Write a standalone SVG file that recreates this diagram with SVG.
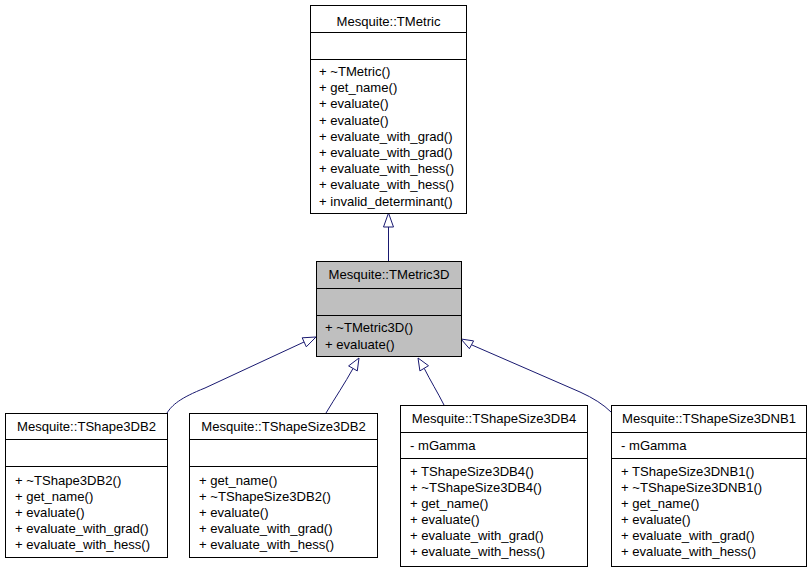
<svg xmlns="http://www.w3.org/2000/svg" width="811" height="571" viewBox="0 0 811 571">
  <style>
    .box { fill: #ffffff; stroke: #000000; stroke-width: 1; }
    .cur { fill: #bfbfbf; stroke: #000000; stroke-width: 1; }
    .sep { stroke: #000000; stroke-width: 1; }
    text { font-family: "Liberation Sans", Arial, Helvetica, sans-serif; font-size: 13.1px; fill: #000000; }
    .mid { text-anchor: middle; }
    .edge { fill: none; stroke: #191970; stroke-width: 1; }
    .head { fill: #ffffff; stroke: #191970; stroke-width: 1; }
  </style>
  <rect width="811" height="571" fill="#ffffff"/>

  <!-- inheritance connectors -->
  <g id="edges">
    <path class="edge" d="M388.5,261 L388.5,227"/>
    <polygon class="head" points="388.5,213 383.5,227 393.5,227"/>

    <path class="edge" d="M167,413 C172,405 180,398 205,388 L304,342"/>
    <polygon class="head" points="316,337 306.3,346.8 302.2,337.8"/>

    <path class="edge" d="M326,413 C335,398 345,383 353,368.5"/>
    <polygon class="head" points="359,358 357.3,370.9 348.6,365.9"/>

    <path class="edge" d="M444,405 C438,393 430,380 424.2,368.3"/>
    <polygon class="head" points="418,358 428.5,365.7 419.9,370.9"/>

    <path class="edge" d="M611,412 Q600,401 580,392 L471.5,344.8"/>
    <polygon class="head" points="461,339 473.6,340.9 469.4,348.7"/>
  </g>

  <g id="TMetric">
    <rect class="box" x="310.5" y="5.5" width="156" height="208"/>
    <line class="sep" x1="310.5" y1="32.5" x2="466.5" y2="32.5"/>
    <line class="sep" x1="310.5" y1="59.5" x2="466.5" y2="59.5"/>
    <text class="mid" x="388.5" y="26">Mesquite::TMetric</text>
    <text x="319" y="76">+ ~TMetric()</text>
    <text x="319" y="92">+ get_name()</text>
    <text x="319" y="108">+ evaluate()</text>
    <text x="319" y="124.5">+ evaluate()</text>
    <text x="319" y="140.5">+ evaluate_with_grad()</text>
    <text x="319" y="157">+ evaluate_with_grad()</text>
    <text x="319" y="173">+ evaluate_with_hess()</text>
    <text x="319" y="189">+ evaluate_with_hess()</text>
    <text x="319" y="205.5">+ invalid_determinant()</text>
  </g>

  <g id="TMetric3D">
    <rect class="cur" x="316.5" y="261.5" width="145" height="95"/>
    <line class="sep" x1="316.5" y1="288.5" x2="461.5" y2="288.5"/>
    <line class="sep" x1="316.5" y1="315.5" x2="461.5" y2="315.5"/>
    <text class="mid" x="389" y="278.5">Mesquite::TMetric3D</text>
    <text x="325" y="332">+ ~TMetric3D()</text>
    <text x="325" y="348.5">+ evaluate()</text>
  </g>

  <g id="TShape3DB2">
    <rect class="box" x="5.5" y="413.5" width="162" height="144"/>
    <line class="sep" x1="5.5" y1="439.5" x2="167.5" y2="439.5"/>
    <line class="sep" x1="5.5" y1="466.5" x2="167.5" y2="466.5"/>
    <text class="mid" x="86.5" y="431">Mesquite::TShape3DB2</text>
    <text x="15" y="485">+ ~TShape3DB2()</text>
    <text x="15" y="501">+ get_name()</text>
    <text x="15" y="517">+ evaluate()</text>
    <text x="15" y="533">+ evaluate_with_grad()</text>
    <text x="15" y="549">+ evaluate_with_hess()</text>
  </g>

  <g id="TShapeSize3DB2">
    <rect class="box" x="189.5" y="413.5" width="188" height="144"/>
    <line class="sep" x1="189.5" y1="439.5" x2="377.5" y2="439.5"/>
    <line class="sep" x1="189.5" y1="466.5" x2="377.5" y2="466.5"/>
    <text class="mid" x="283.5" y="431">Mesquite::TShapeSize3DB2</text>
    <text x="199" y="485">+ get_name()</text>
    <text x="199" y="501">+ ~TShapeSize3DB2()</text>
    <text x="199" y="517">+ evaluate()</text>
    <text x="199" y="533">+ evaluate_with_grad()</text>
    <text x="199" y="549">+ evaluate_with_hess()</text>
  </g>

  <g id="TShapeSize3DB4">
    <rect class="box" x="400.5" y="405.5" width="187" height="161"/>
    <line class="sep" x1="400.5" y1="432.5" x2="587.5" y2="432.5"/>
    <line class="sep" x1="400.5" y1="458.5" x2="587.5" y2="458.5"/>
    <text class="mid" x="494" y="422.5">Mesquite::TShapeSize3DB4</text>
    <text x="410" y="449.5">- mGamma</text>
    <text x="410" y="476">+ TShapeSize3DB4()</text>
    <text x="410" y="492">+ ~TShapeSize3DB4()</text>
    <text x="410" y="508">+ get_name()</text>
    <text x="410" y="524">+ evaluate()</text>
    <text x="410" y="540">+ evaluate_with_grad()</text>
    <text x="410" y="556">+ evaluate_with_hess()</text>
  </g>

  <g id="TShapeSize3DNB1">
    <rect class="box" x="611.5" y="405.5" width="195" height="161"/>
    <line class="sep" x1="611.5" y1="432.5" x2="806.5" y2="432.5"/>
    <line class="sep" x1="611.5" y1="458.5" x2="806.5" y2="458.5"/>
    <text class="mid" x="709" y="422.5">Mesquite::TShapeSize3DNB1</text>
    <text x="621" y="449.5">- mGamma</text>
    <text x="621" y="476">+ TShapeSize3DNB1()</text>
    <text x="621" y="492">+ ~TShapeSize3DNB1()</text>
    <text x="621" y="508">+ get_name()</text>
    <text x="621" y="524">+ evaluate()</text>
    <text x="621" y="540">+ evaluate_with_grad()</text>
    <text x="621" y="556">+ evaluate_with_hess()</text>
  </g>
</svg>
